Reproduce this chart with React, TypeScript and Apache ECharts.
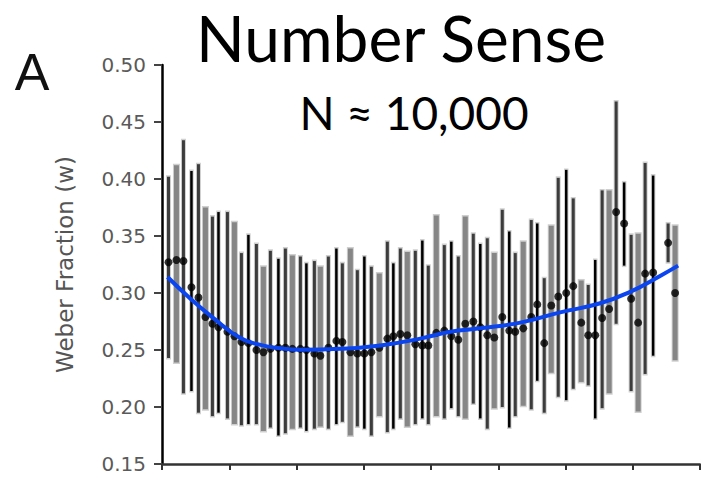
import React, { useEffect, useRef } from "react";
import * as echarts from "echarts";

// x positions (axis units), point means, lower and upper error-bar ends
const X_POS = [
  0.097, 0.215, 0.319, 0.438, 0.542, 0.646, 0.75, 0.84, 0.973, 1.077,
  1.181, 1.285, 1.404, 1.508, 1.612, 1.731, 1.835, 1.939, 2.058, 2.147,
  2.266, 2.355, 2.474, 2.593, 2.682, 2.801, 2.905, 3.009, 3.113, 3.232,
  3.351, 3.44, 3.544, 3.648, 3.767, 3.871, 3.96, 4.079, 4.198, 4.302,
  4.406, 4.51, 4.629, 4.733, 4.837, 4.941, 5.06, 5.164, 5.253, 5.372,
  5.491, 5.58, 5.684, 5.788, 5.892, 6.011, 6.115, 6.234, 6.338, 6.442,
  6.545, 6.649, 6.753, 6.872, 6.976, 7.08, 7.184, 7.303, 7.526, 7.63,
];
const MEANS = [
  0.327, 0.329, 0.328, 0.305, 0.296, 0.279, 0.273, 0.27, 0.266, 0.262,
  0.257, 0.256, 0.25, 0.248, 0.251, 0.252, 0.252, 0.251, 0.251, 0.25,
  0.247, 0.245, 0.252, 0.258, 0.257, 0.248, 0.247, 0.247, 0.248, 0.252,
  0.26, 0.262, 0.264, 0.263, 0.255, 0.254, 0.254, 0.265, 0.267, 0.262,
  0.259, 0.273, 0.275, 0.27, 0.263, 0.261, 0.279, 0.267, 0.266, 0.269,
  0.279, 0.29, 0.256, 0.289, 0.297, 0.3, 0.306, 0.274, 0.263, 0.263,
  0.278, 0.286, 0.371, 0.361, 0.295, 0.274, 0.317, 0.318, 0.344, 0.3,
];
const LOWS = [
  0.243, 0.239, 0.212, 0.214, 0.195, 0.198, 0.192, 0.195, 0.19, 0.185,
  0.184, 0.185, 0.185, 0.179, 0.182, 0.175, 0.177, 0.181, 0.182, 0.179,
  0.181, 0.183, 0.181, 0.185, 0.187, 0.175, 0.183, 0.181, 0.175, 0.192,
  0.178, 0.181, 0.19, 0.183, 0.185, 0.19, 0.185, 0.192, 0.19, 0.199,
  0.192, 0.19, 0.203, 0.19, 0.181, 0.199, 0.2, 0.182, 0.192, 0.201,
  0.198, 0.223, 0.195, 0.23, 0.209, 0.206, 0.216, 0.222, 0.219, 0.19,
  0.199, 0.212, 0.273, 0.324, 0.214, 0.196, 0.229, 0.245, 0.327, 0.241,
];
const HIGHS = [
  0.402, 0.412, 0.434, 0.407, 0.413, 0.375, 0.367, 0.371, 0.371, 0.362,
  0.335, 0.351, 0.343, 0.323, 0.337, 0.33, 0.339, 0.333, 0.332, 0.326,
  0.328, 0.323, 0.332, 0.339, 0.326, 0.339, 0.32, 0.332, 0.323, 0.317,
  0.345, 0.326, 0.339, 0.336, 0.337, 0.346, 0.324, 0.368, 0.342, 0.345,
  0.332, 0.367, 0.352, 0.343, 0.348, 0.335, 0.373, 0.354, 0.335, 0.345,
  0.364, 0.361, 0.313, 0.359, 0.401, 0.408, 0.383, 0.311, 0.307, 0.329,
  0.39, 0.39, 0.468, 0.397, 0.351, 0.352, 0.414, 0.403, 0.361, 0.359,
];
// fitted curve
const FIT_X = [0.082, 0.423, 0.765, 1.166, 1.464, 1.761, 2.058, 2.652, 3.247, 3.841, 4.287, 4.733, 5.327, 5.921, 6.516, 6.961, 7.407, 7.675];
const FIT_Y = [0.314, 0.295, 0.278, 0.2605, 0.2545, 0.2515, 0.2502, 0.251, 0.254, 0.26, 0.266, 0.269, 0.274, 0.283, 0.291, 0.301, 0.315, 0.324];

const TITLE = "Number Sense";
const SUBTITLE = "N ≈ 10,000";
const PANEL = "A";
const Y_NAME = "Weber Fraction (w)";
const Y_MIN = 0.15;
const Y_MAX = 0.5;
const Y_STEP = 0.05;
const X_MIN = 0;
const X_MAX = 8;
const X_STEP = 1;

export default function App() {
  const ref = useRef<HTMLDivElement>(null);
  useEffect(() => {
    if (!ref.current) return;
    const chart = echarts.init(ref.current, undefined, { renderer: "svg" });
    const barData = X_POS.map((x, i) => [x, LOWS[i], HIGHS[i], i]);
    const pointData = X_POS.map((x, i) => [x, MEANS[i]]);
    const fitData = FIT_X.map((x, i) => [x, FIT_Y[i]]);
    chart.setOption({
      animation: false,
      backgroundColor: "#fff",
      grid: { left: 162, right: 1, top: 65, bottom: 14 },
      xAxis: {
        type: "value",
        min: X_MIN,
        max: X_MAX,
        interval: X_STEP,
        axisLabel: { show: false },
        splitLine: { show: false },
        axisLine: { show: true, lineStyle: { color: "#333", width: 2.5 } },
        axisTick: { show: true, length: 6, lineStyle: { color: "#333", width: 2 } },
      },
      yAxis: {
        type: "value",
        min: Y_MIN,
        max: Y_MAX,
        interval: Y_STEP,
        name: Y_NAME,
        nameLocation: "middle",
        nameGap: 86,
        nameTextStyle: { fontFamily: "DejaVu Sans", fontSize: 23, color: "#555" },
        splitLine: { show: false },
        axisLine: { show: true, lineStyle: { color: "#000", width: 2.5 } },
        axisTick: { show: true, length: 8, lineStyle: { color: "#444", width: 2 } },
        axisLabel: {
          margin: 16,
          fontFamily: "DejaVu Sans",
          fontSize: 20,
          color: "#5a5a5a",
          formatter: (v: number) => v.toFixed(2),
        },
      },
      graphic: [
        {
          type: "text",
          x: 401,
          y: 37,
          style: { text: TITLE, fontFamily: "Lato", fontSize: 64, lineHeight: 64, fill: "#000", align: "center", verticalAlign: "middle" },
        },
        {
          type: "text",
          x: 414,
          y: 112,
          style: { text: SUBTITLE, fontFamily: "Lato", fontSize: 46, lineHeight: 46, fill: "#000", align: "center", verticalAlign: "middle" },
        },
        {
          type: "text",
          x: 32,
          y: 72,
          style: { text: PANEL, fontFamily: "Liberation Sans", fontSize: 52, lineHeight: 52, fill: "#111", align: "center", verticalAlign: "middle" },
        },
      ],
      series: [
        {
          type: "custom",
          z: 2,
          data: barData,
          renderItem: (params: any, api: any) => {
            const x = api.value(0);
            const lo = api.value(1);
            const hi = api.value(2);
            const idx = api.value(3);
            const top = api.coord([x, hi]);
            const bot = api.coord([x, lo]);
            const kind = idx % 4;
            const w = kind === 1 ? 5 : kind === 3 ? 2.5 : 3;
            const color = kind === 1 ? "#868686" : kind === 3 ? "#000" : "#3c3c3c";
            return {
              type: "group",
              children: [
                {
                  type: "rect",
                  shape: { x: top[0] - w / 2 - 1, y: top[1] - 1.5, width: w + 2, height: bot[1] - top[1] + 3 },
                  style: { fill: "#cfcfcf" },
                },
                {
                  type: "rect",
                  shape: { x: top[0] - w / 2, y: top[1], width: w, height: bot[1] - top[1] },
                  style: { fill: color },
                },
              ],
            };
          },
        },
        {
          type: "scatter",
          z: 3,
          data: pointData,
          symbol: "circle",
          symbolSize: 8,
          itemStyle: { color: "#000" },
        },
        {
          type: "line",
          z: 4,
          data: fitData,
          smooth: 0.5,
          showSymbol: false,
          symbol: "none",
          lineStyle: { color: "#0b45f0", width: 4 },
        },
      ],
    });
    return () => chart.dispose();
  }, []);
  return <div ref={ref} style={{ position: "fixed", left: 0, top: 0, width: 701, height: 478 }} />;
}
